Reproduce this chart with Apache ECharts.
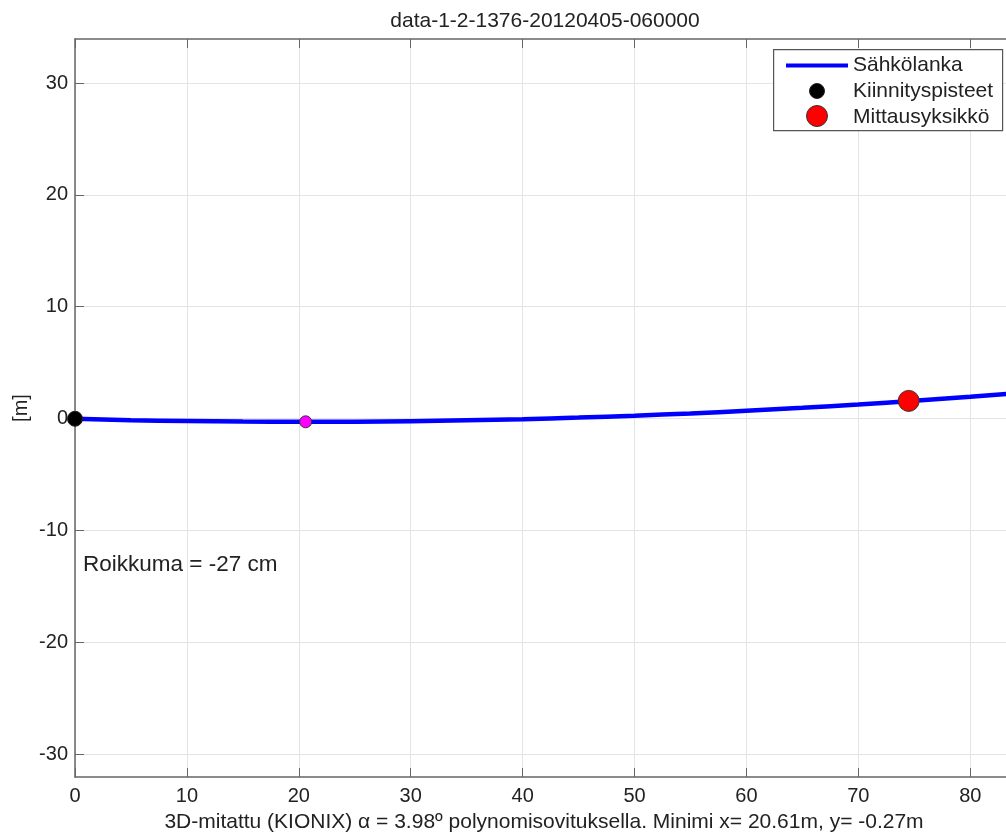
<!DOCTYPE html>
<html>
<head>
<meta charset="utf-8">
<script src="https://cdn.jsdelivr.net/npm/echarts@6/dist/echarts.min.js"></script>
<style>
html, body { margin: 0; padding: 0; background: #fff; overflow: hidden; }
#main { width: 1040px; height: 836px; }
</style>
</head>
<body>
<div id="main"></div>
<script>
// values (metres)
var wireX = [0, 5, 10, 15, 20, 25, 30, 35, 40, 45, 50, 55, 60, 65, 70, 75, 80, 85];
var wireY = [0, -0.12, -0.2, -0.25, -0.27, -0.26, -0.21, -0.13, -0.03, 0.11, 0.28, 0.48, 0.72, 0.98, 1.28, 1.61, 1.97, 2.36];
var fixPoints = [[0, 0]];
var minPoint = [[20.61, -0.27]];
var unitPoint = [[74.5, 1.6]];
var yTicks = [-30, -20, -10, 0, 10, 20, 30];

var titleText = 'data-1-2-1376-20120405-060000';
var xTitle = '3D-mitattu (KIONIX) \u03b1 = 3.98\u00ba polynomisovituksella. Minimi x= 20.61m, y= -0.27m';
var sagText = 'Roikkuma = -27 cm';

var font = '"Liberation Sans", Arial, sans-serif';
var frameColor = '#666';
var gridColor = '#e4e4e4';
var textColor = '#222';

var myChart = echarts.init(document.getElementById('main'));

var wire = wireX.map(function (x, i) { return [x, wireY[i]]; });

var legendText = { fontFamily: font, fontSize: 21, color: textColor };
var hiddenIcon = { color: 'rgba(0,0,0,0)', borderWidth: 0 };

option = {
    animation: false,
    textStyle: { fontFamily: font },
    title: {
        text: titleText,
        left: 540,
        textAlign: 'center',
        top: 6,
        textStyle: { fontFamily: font, fontSize: 21, fontWeight: 'normal', color: textColor }
    },
    legend: [
        {
            data: [{ name: 'Sähkölanka', icon: 'rect' }],
            left: 786, top: 55, padding: 0, z: 20,
            itemWidth: 62, itemHeight: 4,
            textStyle: legendText
        },
        {
            data: [{ name: 'Kiinnityspisteet', icon: 'rect', itemStyle: hiddenIcon }],
            left: 786, top: 81, padding: 0, z: 20,
            itemWidth: 62, itemHeight: 4,
            textStyle: legendText
        },
        {
            data: [{ name: 'Mittausyksikkö', icon: 'rect', itemStyle: hiddenIcon }],
            left: 786, top: 107, padding: 0, z: 20,
            itemWidth: 62, itemHeight: 4,
            textStyle: legendText
        }
    ],
    grid: [
        { left: 75, top: 39, width: 938, height: 738, outerBoundsMode: 'none' },
        { left: 75, top: 83, width: 938, height: 671, outerBoundsMode: 'none' }
    ],
    xAxis: [
        {
            gridIndex: 0, type: 'value', min: 0, max: 83.82, interval: 10,
            name: xTitle, nameLocation: 'middle', nameGap: 35,
            nameTextStyle: { fontFamily: font, fontSize: 21, color: textColor },
            axisLine: { onZero: false, lineStyle: { color: frameColor, width: 1.5 } },
            axisTick: { inside: true, length: 9, lineStyle: { color: frameColor } },
            axisLabel: { fontFamily: font, fontSize: 20, color: textColor, margin: 9,
                formatter: function (v) { return v % 10 === 0 ? v : ''; } },
            splitLine: { show: true, lineStyle: { color: gridColor } }
        },
        {
            gridIndex: 0, type: 'value', position: 'top', min: 0, max: 83.82, interval: 10,
            axisLine: { onZero: false, lineStyle: { color: frameColor, width: 1.5 } },
            axisTick: { inside: true, length: 9, lineStyle: { color: frameColor } },
            axisLabel: { show: false },
            splitLine: { show: false }
        },
        {
            gridIndex: 1, type: 'value', min: 0, max: 83.82, show: false
        }
    ],
    yAxis: [
        {
            gridIndex: 0, type: 'value', min: -32.03, max: 33.96,
            name: '[m]', nameLocation: 'middle', nameGap: 44, nameRotate: 90,
            nameTextStyle: { fontFamily: font, fontSize: 20, color: textColor },
            axisLine: { show: true, onZero: false, lineStyle: { color: frameColor, width: 1.5 } },
            axisTick: { show: false },
            axisLabel: { show: false },
            splitLine: { show: false }
        },
        {
            gridIndex: 0, type: 'value', position: 'right', min: -32.03, max: 33.96,
            axisLine: { show: true, onZero: false, lineStyle: { color: frameColor, width: 1.5 } },
            axisTick: { show: false },
            axisLabel: { show: false },
            splitLine: { show: false }
        },
        {
            gridIndex: 1, type: 'value', min: yTicks[0], max: yTicks[yTicks.length - 1], interval: 10,
            axisLine: { show: false },
            axisTick: { show: true, inside: true, length: 9, lineStyle: { color: frameColor } },
            axisLabel: { fontFamily: font, fontSize: 20, color: textColor, margin: 7 },
            splitLine: { show: true, lineStyle: { color: gridColor } }
        }
    ],
    graphic: [
        {
            type: 'rect', left: 773, top: 49, z: 1,
            shape: { width: 229, height: 81 },
            style: { fill: '#fff', stroke: '#555', lineWidth: 1.2 }
        },
        // legend symbols for the two point series
        {
            type: 'circle', z: 30, shape: { cx: 817, cy: 91, r: 7.5 },
            style: { fill: '#000', stroke: '#222', lineWidth: 1 }
        },
        {
            type: 'circle', z: 30, shape: { cx: 817, cy: 116, r: 10.5 },
            style: { fill: '#ff0000', stroke: '#333', lineWidth: 1 }
        },
        {
            type: 'text', left: 83, top: 553, z: 5,
            style: { text: sagText, font: '22.5px ' + font, fill: textColor }
        }
    ],
    series: [
        {
            name: 'Sähkölanka', type: 'line', xAxisIndex: 0, yAxisIndex: 0,
            data: wire, smooth: true, showSymbol: false,
            color: '#0000ff',
            lineStyle: { color: '#0000ff', width: 4.5 },
            z: 2
        },
        {
            name: 'Kiinnityspisteet', type: 'scatter', xAxisIndex: 0, yAxisIndex: 0,
            data: fixPoints, symbolSize: 15,
            itemStyle: { color: '#000', borderColor: '#222', borderWidth: 1, opacity: 1 },
            z: 3
        },
        {
            name: 'Minimi', type: 'scatter', xAxisIndex: 0, yAxisIndex: 0,
            data: minPoint, symbolSize: 12,
            itemStyle: { color: '#ff00ff', borderColor: '#333', borderWidth: 1, opacity: 1 },
            z: 3
        },
        {
            name: 'Mittausyksikkö', type: 'scatter', xAxisIndex: 0, yAxisIndex: 0,
            data: unitPoint, symbolSize: 21,
            itemStyle: { color: '#ff0000', borderColor: '#333', borderWidth: 1, opacity: 1 },
            z: 3
        }
    ]
};

myChart.setOption(option);
</script>
</body>
</html>
